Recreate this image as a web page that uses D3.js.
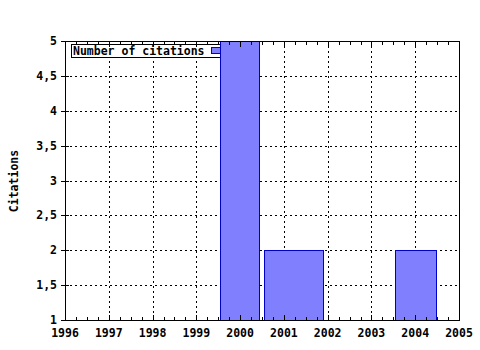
<!DOCTYPE html>
<html><head><meta charset="utf-8">
<script src="https://cdn.jsdelivr.net/npm/d3@7"></script>
<style>body{margin:0;background:#fff}svg{display:block}text{font-family:"DejaVu Sans Mono",monospace;font-weight:bold;font-size:11.5px;fill:#000}</style>
</head><body>
<script>
const years = [1996,1997,1998,1999,2000,2001,2002,2003,2004,2005];
const yTicks = [1,1.5,2,2.5,3,3.5,4,4.5,5];
const yTickLabels = ["1","1,5","2","2,5","3","3,5","4","4,5","5"];
const barStart = [1999.55, 2000.55, 2003.54];
const barEnd = [2000.44, 2001.89, 2004.47];
const citations = [5, 2, 2];
const seriesName = "Number of citations";
const yTitle = "Citations";

const W=480,H=350, L=65,R=459,T=41,B=320;
const svg=d3.select("body").append("svg").attr("width",W).attr("height",H);
const x=d3.scaleLinear().domain([1996,2005]).range([L,R]);
const y=d3.scaleLinear().domain([1,5]).range([B,T]);

// grid
const g=svg.append("g").attr("stroke","#000").attr("stroke-width",1).attr("stroke-dasharray","2,3").attr("shape-rendering","crispEdges");
g.selectAll(".v").data(years.slice(1,-1)).join("line").attr("x1",d=>Math.round(x(d))+0.5).attr("x2",d=>Math.round(x(d))+0.5).attr("y1",T).attr("y2",B);
g.selectAll(".h").data(yTicks.slice(1,-1)).join("line").attr("y1",d=>Math.round(y(d))+0.5).attr("y2",d=>Math.round(y(d))+0.5).attr("x1",L).attr("x2",R);

// legend (drawn under bars)
svg.append("rect").attr("x",71.5).attr("y",44.5).attr("width",160).attr("height",13).attr("fill","#fff").attr("stroke","#000");
svg.append("text").attr("x",73).attr("y",54.5).text(seriesName);
svg.append("rect").attr("x",211.5).attr("y",47.5).attr("width",10).attr("height",6).attr("fill","#8080ff").attr("stroke","#0000cc");

// bars
svg.selectAll(".bar").data(citations).join("rect")
  .attr("x",(d,i)=>Math.round(x(barStart[i]))+0.5)
  .attr("width",(d,i)=>Math.round(x(barEnd[i]))-Math.round(x(barStart[i])))
  .attr("y",d=>Math.round(y(d))+0.5)
  .attr("height",d=>B-Math.round(y(d)))
  .attr("fill","#8080ff").attr("stroke","#0000cc").attr("stroke-width",1);

// axes
const minor=d3.range(1996,2005.001,0.25);
const ax=svg.append("g").attr("stroke","#000").attr("shape-rendering","crispEdges");
ax.append("line").attr("x1",L).attr("x2",R+1).attr("y1",B+0.5).attr("y2",B+0.5);
ax.append("line").attr("x1",L).attr("x2",R+1).attr("y1",T+0.5).attr("y2",T+0.5);
ax.append("line").attr("x1",L+0.5).attr("x2",L+0.5).attr("y1",T).attr("y2",B+1);
ax.append("line").attr("x1",R+0.5).attr("x2",R+0.5).attr("y1",T).attr("y2",B+1);
ax.selectAll(".mb").data(minor).join("line").attr("x1",d=>Math.round(x(d))+0.5).attr("x2",d=>Math.round(x(d))+0.5)
  .attr("y1",B).attr("y2",d=>Number.isInteger(d)?B-5:B-3);
ax.selectAll(".mt").data(minor).join("line").attr("x1",d=>Math.round(x(d))+0.5).attr("x2",d=>Math.round(x(d))+0.5)
  .attr("y1",T+1).attr("y2",d=>Number.isInteger(d)?T+6:T+4);
ax.selectAll(".yt").data(yTicks).join("line").attr("y1",d=>Math.round(y(d))+0.5).attr("y2",d=>Math.round(y(d))+0.5)
  .attr("x1",L-4).attr("x2",L+4);

svg.selectAll(".xl").data(years).join("text").attr("x",d=>x(d)).attr("y",337).attr("text-anchor","middle").text(d=>d);
svg.selectAll(".yl").data(yTicks).join("text").attr("x",57).attr("y",d=>y(d)+4).attr("text-anchor","end").text((d,i)=>yTickLabels[i]);
svg.append("text").attr("transform","translate(18,181) rotate(-90)").attr("text-anchor","middle").text(yTitle);
</script>
</body></html>
